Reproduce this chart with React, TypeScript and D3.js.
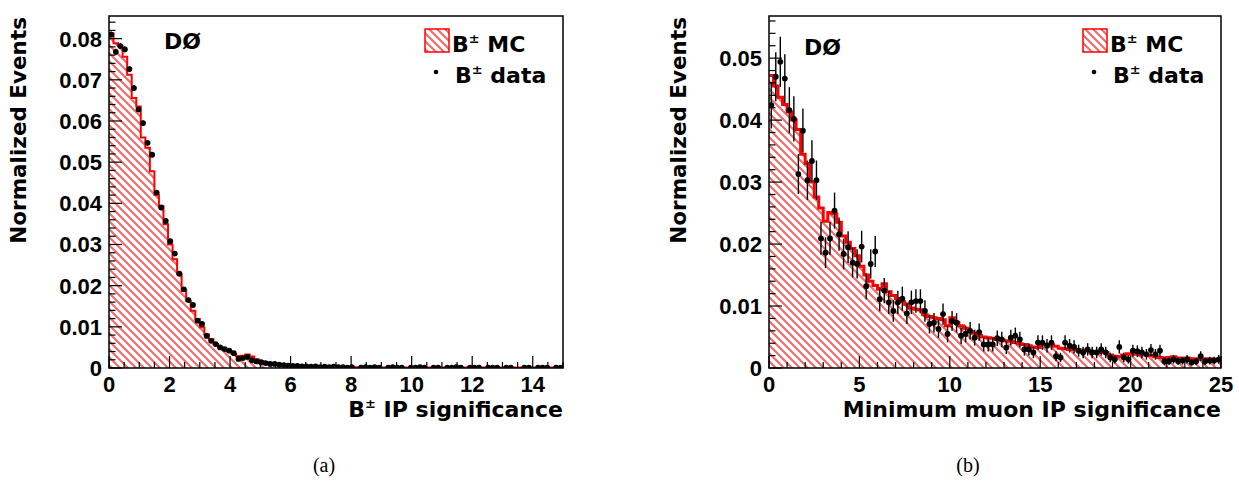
import * as d3 from "d3";

// B± IP significance, 100 bins over [0, 15]
const mcIp = [
  0.0813, 0.0789, 0.0782, 0.0756, 0.0712, 0.0656, 0.0635, 0.056, 0.0535, 0.0478,
  0.0421, 0.0393, 0.0349, 0.03, 0.0264, 0.0228, 0.0187, 0.0163, 0.0139, 0.0119,
  0.0099, 0.0082, 0.007, 0.0058, 0.005, 0.0044, 0.004, 0.0034, 0.0029, 0.003,
  0.0033, 0.0028, 0.0021, 0.0017, 0.0014, 0.0012, 0.0011, 0.0009, 0.0008, 0.0007,
  0.0006, 0.0005, 0.0005, 0.0004, 0.0004, 0.0003, 0.0003, 0.0003, 0.0002, 0.0002,
  0.0002, 0.0002, 0.0002, 0.0002, 0.0002, 0.0002, 0.0002, 0.0002, 0.0002, 0.0002,
  0.00015, 0.00015, 0.00015, 0.00015, 0.00015, 0.00015, 0.00015, 0.00015, 0.00015, 0.00015,
  0.00015, 0.00015, 0.00015, 0.00015, 0.00015, 0.00015, 0.00015, 0.00015, 0.00015, 0.00015,
  0.0001, 0.0001, 0.0001, 0.0001, 0.0001, 0.0001, 0.0001, 0.0001, 0.0001, 0.0001,
  0.0001, 0.0001, 0.0001, 0.0001, 0.0001, 0.0001, 0.0001, 0.0001, 0.0001, 0.0001,
];
const dataIp = [
  0.081, 0.0768, 0.0782, 0.0774, 0.0726, 0.068, 0.0628, 0.0595, 0.0547, 0.0518,
  0.0426, 0.039, 0.0357, 0.0308, 0.0278, 0.0229, 0.0191, 0.0165, 0.0153, 0.0115,
  0.0107, 0.0078, 0.0066, 0.0058, 0.005, 0.0046, 0.0042, 0.0036, 0.0022, 0.0024,
  0.0027, 0.0019, 0.0016, 0.0014, 0.0012, 0.001, 0.001, 0.0008, 0.0007, 0.0006,
  0.0005, 0.0005, 0.0004, 0.0004, 0.0003, 0.0004, 0.0002, 0.0003, 0.0002, 0.0003,
  0.0002, 0.0002, 0.0001, 0.0002, 0, 0.0001, 0.0002, 0.0001, 0.0002, 0.0001,
  0, 0.0001, 0.0002, 0.0001, 0.0001, 0, 0.0001, 0.0001, 0.0002, 0.0001,
  0, 0.0001, 0.0001, 0, 0.0001, 0.0001, 0.0002, 0.0001, 0, 0.0001,
  0.0001, 0.0001, 0, 0.0001, 0.0001, 0.0001, 0, 0.0001, 0.0001, 0,
  0, 0.0001, 0.0001, 0, 0.0001, 0.0001, 0.0001, 0, 0.0001, 0.0001,
];
const eventsIp = 150000;

// minimum muon IP significance, 100 bins over [0, 25]
const mcMu = [
  0.0472, 0.0455, 0.0437, 0.0425, 0.0413, 0.04, 0.0385, 0.0345, 0.033, 0.03,
  0.0276, 0.0258, 0.0237, 0.0251, 0.0249, 0.0235, 0.0213, 0.0203, 0.0193, 0.0181,
  0.0164, 0.015, 0.014, 0.0133, 0.0127, 0.0136, 0.0123, 0.0117, 0.0112, 0.0107,
  0.0103, 0.0097, 0.0095, 0.0094, 0.0086, 0.0083, 0.0081, 0.008, 0.0078, 0.0068,
  0.0081, 0.0074, 0.0068, 0.0064, 0.0059, 0.0056, 0.0053, 0.005, 0.0049, 0.0048,
  0.0046, 0.0045, 0.0044, 0.0043, 0.0041, 0.0039, 0.0038, 0.0036, 0.0034, 0.0033,
  0.0038, 0.0038, 0.0037, 0.0035, 0.0032, 0.0031, 0.003, 0.003, 0.0029, 0.0029,
  0.0028, 0.0027, 0.0026, 0.0025, 0.0025, 0.0021, 0.0019, 0.0018, 0.0021, 0.0023,
  0.0022, 0.0022, 0.0021, 0.0021, 0.002, 0.0018, 0.0017, 0.0016, 0.0017, 0.0018,
  0.0016, 0.0015, 0.0016, 0.0015, 0.0014, 0.0015, 0.0014, 0.0015, 0.0014, 0.0014,
];
const dataMu = [
  0.0424, 0.047, 0.0494, 0.0467, 0.0416, 0.0402, 0.0313, 0.0383, 0.0303, 0.0334,
  0.0303, 0.0209, 0.0186, 0.0209, 0.0254, 0.0216, 0.0184, 0.0195, 0.017, 0.0168,
  0.0196, 0.0132, 0.0168, 0.0188, 0.0111, 0.0125, 0.0106, 0.0092, 0.0106, 0.0112,
  0.0088, 0.0106, 0.0108, 0.0108, 0.0092, 0.0071, 0.0073, 0.0063, 0.0087, 0.0055,
  0.0076, 0.0073, 0.0052, 0.0055, 0.006, 0.0049, 0.0058, 0.0038, 0.0038, 0.0038,
  0.0048, 0.0046, 0.0033, 0.0049, 0.0052, 0.0046, 0.003, 0.003, 0.0025, 0.0041,
  0.0041, 0.0036, 0.0041, 0.0019, 0.0017, 0.0041, 0.0036, 0.0034, 0.0028, 0.0025,
  0.003, 0.0025, 0.0025, 0.003, 0.0025, 0.0017, 0.0014, 0.0034, 0.0017, 0.0014,
  0.0028, 0.0027, 0.0025, 0.0022, 0.0029, 0.0022, 0.0028, 0.0011, 0.0011, 0.0014,
  0.0011, 0.0012, 0.0014, 0.0009, 0.0011, 0.0019, 0.0011, 0.0012, 0.0012, 0.0014,
];
const eventsMu = 3000;

const ticksIp = [0, 2, 4, 6, 8, 10, 12, 14];
const ticksMu = [0, 5, 10, 15, 20, 25];
const yTicksIp = [0, 0.01, 0.02, 0.03, 0.04, 0.05, 0.06, 0.07, 0.08];
const yTicksMu = [0, 0.01, 0.02, 0.03, 0.04, 0.05];

const TOP = 16;
const BOTTOM = 368;
const numFont = "'Liberation Sans', Arial, sans-serif";
const textFont = "'DejaVu Sans', sans-serif";

type Pt = [number, number];

function BLabel({ rest }: { rest: string }) {
  return (
    <>
      <tspan>B</tspan>
      <tspan fontSize={13} dy={-9}>±</tspan>
      <tspan dy={9}>{rest}</tspan>
    </>
  );
}

function Panel(props: {
  id: string;
  mc: number[];
  data: number[];
  events: number;
  xMax: number;
  yMax: number;
  left: number;
  right: number;
  xTicks: number[];
  xMinor: number;
  yTicks: number[];
  lineWidth: number;
  title: string;
  dzero: Pt;
  legendX: number;
}) {
  const { mc, data, xMax, yMax, left, right } = props;
  const x = d3.scaleLinear().domain([0, xMax]).range([left, right]);
  const y = d3.scaleLinear().domain([0, yMax]).range([BOTTOM, TOP]);
  const bw = xMax / mc.length;

  const steps: Pt[] = mc.map((v, i) => [i * bw, v] as Pt);
  steps.push([xMax, mc[mc.length - 1]]);
  const line = d3
    .line<Pt>()
    .x((d) => x(d[0]))
    .y((d) => y(d[1]))
    .curve(d3.curveStepAfter);
  const area = d3
    .area<Pt>()
    .x((d) => x(d[0]))
    .y0(y(0))
    .y1((d) => y(d[1]))
    .curve(d3.curveStepAfter);

  // minor ticks, majors every few
  const nx = Math.round(xMax / props.xMinor);
  const xStep = props.xTicks[1] / props.xMinor;
  const ny = Math.floor(yMax / 0.002 + 1e-9);

  const clip = `clip-${props.id}`;
  return (
    <g>
      <clipPath id={clip}>
        <rect x={left} y={TOP} width={right - left} height={BOTTOM - TOP} />
      </clipPath>
      <g clipPath={`url(#${clip})`}>
        <path d={area(steps) ?? ""} fill="url(#hatch)" />
        <path
          d={line(steps) ?? ""}
          fill="none"
          stroke="#ff0000"
          strokeWidth={props.lineWidth}
        />
        {data.map((v, i) => {
          if (v <= 0) return null;
          const cx = x((i + 0.5) * bw);
          const err = Math.sqrt(v / props.events);
          return (
            <g key={i}>
              <line
                x1={cx}
                x2={cx}
                y1={y(v + err)}
                y2={y(Math.max(0, v - err))}
                stroke="#000"
                strokeWidth={1.4}
              />
              <circle cx={cx} cy={y(v)} r={2.9} fill="#000" />
            </g>
          );
        })}
      </g>

      <rect
        x={left}
        y={TOP}
        width={right - left}
        height={BOTTOM - TOP}
        fill="none"
        stroke="#000"
        strokeWidth={1.5}
      />

      {d3.range(nx + 1).map((i) => {
        const px = x(i * props.xMinor);
        const len = i % xStep === 0 ? 12 : 6;
        return (
          <line key={`xt${i}`} x1={px} x2={px} y1={BOTTOM} y2={BOTTOM - len} stroke="#000" strokeWidth={1.2} />
        );
      })}
      {d3.range(ny + 1).map((i) => {
        const py = y(i * 0.002);
        const len = i % 5 === 0 ? 13 : 6.5;
        return (
          <line key={`yt${i}`} x1={left} x2={left + len} y1={py} y2={py} stroke="#000" strokeWidth={1.2} />
        );
      })}

      <g fontFamily={numFont} fontWeight="bold" fontSize={22} fill="#000">
        {props.xTicks.map((t) => (
          <text key={`xl${t}`} x={x(t)} y={BOTTOM + 24} textAnchor="middle">
            {t}
          </text>
        ))}
        {props.yTicks.map((t) => (
          <text key={`yl${t}`} x={left - 7} y={y(t) + 8} textAnchor="end">
            {t === 0 ? "0" : t.toFixed(2)}
          </text>
        ))}
      </g>

      <g fontFamily={textFont} fontWeight="bold" fontSize={22} fill="#000">
        <text x={right} y={417} textAnchor="end">
          {props.title === "ip" ? (
            <BLabel rest=" IP significance" />
          ) : (
            "Minimum muon IP significance"
          )}
        </text>
        <text
          transform={`translate(${left - 83},${TOP + 1}) rotate(-90)`}
          textAnchor="end"
          fontSize={21.5}
        >
          Normalized Events
        </text>
        <text x={props.dzero[0]} y={props.dzero[1]}>
          DØ
        </text>

        <rect
          x={props.legendX}
          y={29}
          width={24}
          height={23}
          fill="url(#hatch)"
          stroke="#ff0000"
          strokeWidth={1.5}
        />
        <text x={props.legendX + 27} y={52}>
          <BLabel rest=" MC" />
        </text>
        <circle cx={props.legendX + 11} cy={72} r={2.3} fill="#000" />
        <text x={props.legendX + 30} y={83}>
          <BLabel rest=" data" />
        </text>
      </g>
    </g>
  );
}

export default function App() {
  return (
    <svg
      width={1239}
      height={492}
      style={{ position: "absolute", left: 0, top: 0, background: "#fff" }}
    >
      <defs>
        <pattern id="hatch" patternUnits="userSpaceOnUse" width={8} height={8}>
          <rect width={8} height={8} fill="#fff" />
          <path
            d="M-2,-2 L10,10 M-2,6 L2,10 M6,-2 L10,2"
            stroke="#f26a6a"
            strokeWidth={2.1}
          />
        </pattern>
      </defs>
      <rect width={1239} height={492} fill="#fff" />

      <Panel
        id="a"
        mc={mcIp}
        data={dataIp}
        events={eventsIp}
        xMax={15}
        yMax={0.0855}
        left={109}
        right={563}
        xTicks={ticksIp}
        xMinor={0.5}
        yTicks={yTicksIp}
        lineWidth={2}
        title="ip"
        dzero={[164, 49]}
        legendX={425}
      />
      <Panel
        id="b"
        mc={mcMu}
        data={dataMu}
        events={eventsMu}
        xMax={25}
        yMax={0.0568}
        left={769}
        right={1221}
        xTicks={ticksMu}
        xMinor={1}
        yTicks={yTicksMu}
        lineWidth={3}
        title="mu"
        dzero={[804, 55]}
        legendX={1083}
      />

      <g fontFamily="'Liberation Serif', serif" fontSize={20} fill="#000">
        <text x={324} y={472} textAnchor="middle">(a)</text>
        <text x={968} y={472} textAnchor="middle">(b)</text>
      </g>
    </svg>
  );
}
